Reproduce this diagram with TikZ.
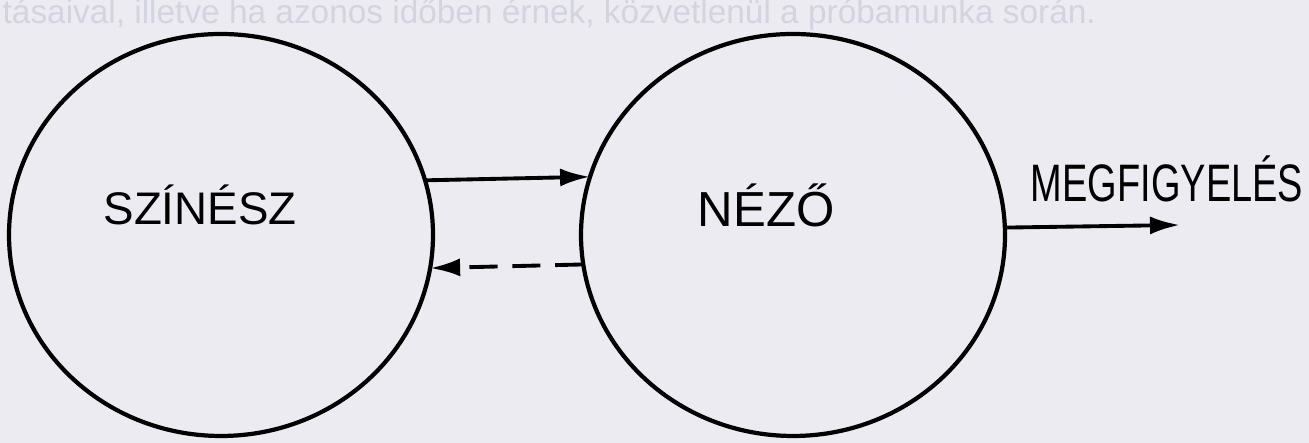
\documentclass[tikz,border=0pt]{standalone}
\usepackage{fontspec}
\setmainfont{Liberation Sans}
\newfontfamily\keskenyfont[FakeStretch=0.72]{Liberation Sans}
\usetikzlibrary{shapes.geometric,arrows.meta}
\definecolor{papir}{RGB}{235,235,241}
\definecolor{atutes}{RGB}{212,212,225}

\begin{document}
\begin{tikzpicture}
    \pgfmathsetmacro{\korszel}{4.24}
    \pgfmathsetmacro{\kormag}{4.02}
    \pgfmathsetmacro{\kozepy}{2.08}
    \tikzset{
        kor/.style={ellipse,draw,line width=1.2pt,minimum width=\korszel cm,minimum height=\kormag cm,inner sep=0,outer sep=0},
        felirat/.style={anchor=base,inner sep=0,font=\fontsize{13pt}{13pt}\selectfont},
        nyil/.style={-{Latex[length=3mm,width=1.8mm]},line width=1.1pt},
        szaggatott/.style={nyil,dash pattern=on 8pt off 4.2pt}
    }
    \fill[papir] (0,0) rectangle (13.09,4.43);
    \useasboundingbox (0,0) rectangle (13.09,4.43);
    % athallatszo szoveg a lap tetejen
    \node[anchor=base west,inner sep=0,text=atutes,font=\fontsize{9.5pt}{9.5pt}\selectfont] (hatter) at (0.02,4.19)
        {tásaival, illetve ha azonos időben érnek, közvetlenül a próbamunka során.};
    \node[kor] (szinesz) at (2.21,\kozepy) {};
    \node[kor] (nezo) at (7.93,\kozepy) {};
    \node[felirat] (szineszfelirat) at (2.00,2.18) {SZÍNÉSZ};
    \node[felirat,font=\fontsize{14pt}{14pt}\selectfont] (nezofelirat) at (7.66,2.16) {NÉZŐ};
    \node[felirat,font=\keskenyfont\fontsize{15pt}{15pt}\selectfont] (megfigyeles) at (11.67,2.41) {MEGFIGYELÉS};
    \coordinate (cel) at (11.80,2.18);
    \draw[nyil] (szinesz.15.94) -- (nezo.164.06);
    \draw[szaggatott] (nezo.188.97) -- (szinesz.351.03);
    \draw[nyil] (nezo.2.70) -- (cel);
\end{tikzpicture}
\end{document}
